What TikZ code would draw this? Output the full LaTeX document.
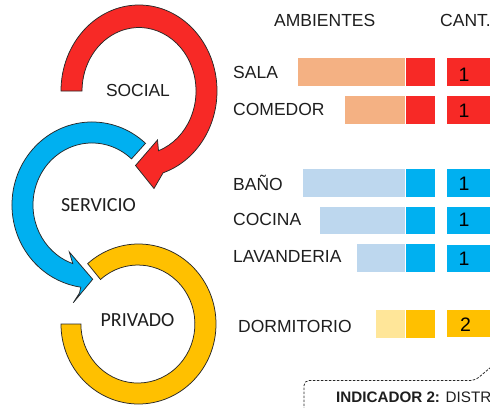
\documentclass[tikz,border=0pt]{standalone}
\usepackage{fontspec}
\setmainfont{Liberation Sans}
\newfontfamily\calib{Carlito}
\definecolor{redc}{RGB}{247,41,38}
\definecolor{redl}{RGB}{244,177,131}
\definecolor{bluec}{RGB}{0,176,240}
\definecolor{bluel}{RGB}{189,215,238}
\definecolor{yelc}{RGB}{255,192,0}
\definecolor{yell}{RGB}{255,230,153}
\definecolor{edge}{RGB}{40,40,40}
\definecolor{txt}{RGB}{30,30,30}
\begin{document}
\begin{tikzpicture}[x=1pt,y=-1pt,
  ringedge/.style={draw=edge,line width=0.75pt,line join=miter,miter limit=6},
  lab/.style={font=\fontsize{17.5}{20}\selectfont,text=txt,anchor=base west,inner sep=0pt},
  num/.style={font=\fontsize{19.5}{22}\selectfont,text=black,anchor=base,inner sep=0pt},
  zone/.style={font=\fontsize{17.4}{20}\selectfont,text=txt,anchor=base,inner sep=0pt},
  zonec/.style={font=\calib\fontsize{20}{24}\selectfont,text=txt,anchor=base,inner sep=0pt},
  barsep/.style={draw=white,line width=0.6pt},
  dashbox/.style={draw=edge,line width=0.8pt,dash pattern=on 2.5pt off 1.5pt,rounded corners=5pt},
]
\useasboundingbox (0,0) rectangle (490,407);
\clip (0,0) rectangle (490,407);

% red arrow (SOCIAL)
\filldraw[fill=redc,ringedge] (61,91)
  arc[start angle=180,end angle=432,x radius=78,y radius=86]
  -- (154,188.5) -- (135.5,165.5) -- (157.5,140) -- (158.5,150.7)
  arc[start angle=430,end angle=180,x radius=57,y radius=63.5] -- cycle;

% blue arrow (SERVICIO)
\filldraw[fill=bluec,ringedge] (145.5,143.3)
  arc[start angle=-48,end angle=-262,x radius=80,y radius=83]
  -- (79.5,293) -- (73.3,302.7) -- (92.7,279.3) -- (69.3,252) -- (72.8,263.6)
  arc[start angle=-251,end angle=-48,x radius=59,y radius=62] -- cycle;

% yellow ring (PRIVADO)
\filldraw[fill=yelc,ringedge] (61,324)
  arc[start angle=180,end angle=-131,x radius=77.5,y radius=80]
  -- (100.5,279.5)
  arc[start angle=-131,end angle=180,x radius=57,y radius=59] -- cycle;

\node[zone] (social) at (138,96.7) {SOCIAL};
\node[zonec] (servicio) at (98.5,211.7) {SERVICIO};
\node[zonec] (privado) at (137.5,326.7) {PRIVADO};

% headers
\node[lab] (amb) at (274,26.7) {AMBIENTES};
\node[lab] (cant) at (440,26.7) {CANT.};

% SALA
\filldraw[fill=redl,barsep] (297,57) rectangle (405,86);
\filldraw[fill=redc,barsep] (405,57) rectangle (435,86);
\filldraw[fill=redc,barsep] (446,57) rectangle (491,86);
\node[lab] (sala) at (233,78.3) {SALA};
\node[num] (nsala) at (464,81) {1};

% COMEDOR
\filldraw[fill=redl,barsep] (344,95) rectangle (405,124);
\filldraw[fill=redc,barsep] (405,95) rectangle (435,124);
\filldraw[fill=redc,barsep] (446,95.5) rectangle (491,124);
\node[lab] (comedor) at (233,115) {COMEDOR};
\node[num] (ncomedor) at (464,117.7) {1};

% BAÑO
\filldraw[fill=bluel,barsep] (302,168) rectangle (405,197);
\filldraw[fill=bluec,barsep] (405,168) rectangle (435,197);
\filldraw[fill=bluec,barsep] (446,168) rectangle (491,197);
\node[lab] (bano) at (233,190.7) {BAÑO};
\node[num] (nbano) at (464,190) {1};

% COCINA
\filldraw[fill=bluel,barsep] (319,206) rectangle (405,234.5);
\filldraw[fill=bluec,barsep] (405,206) rectangle (435,234.5);
\filldraw[fill=bluec,barsep] (446,206) rectangle (491,234.5);
\node[lab] (cocina) at (233,225) {COCINA};
\node[num] (ncocina) at (464,226) {1};

% LAVANDERIA
\filldraw[fill=bluel,barsep] (356,243.5) rectangle (405,272);
\filldraw[fill=bluec,barsep] (405,243.5) rectangle (435,272);
\filldraw[fill=bluec,barsep] (446,244) rectangle (491,272.3);
\node[lab] (lavanderia) at (233,262.3) {LAVANDERIA};
\node[num] (nlavanderia) at (464,265) {1};

% DORMITORIO
\filldraw[fill=yell,barsep] (375,309.5) rectangle (405,338.5);
\filldraw[fill=yelc,barsep] (405,309.5) rectangle (435.5,338.5);
\filldraw[fill=yelc,barsep] (446,309.3) rectangle (491,337.7);
\node[lab] (dormitorio) at (238,332.7) {DORMITORIO};
\node[num] (ndormitorio) at (465.5,331.7) {2};

% indicator box
\coordinate (dbA) at (497,362);
\coordinate (dbB) at (475,380.5);
\coordinate (dbC) at (304,380.5);
\coordinate (dbD) at (304,415);
\draw[dashbox] (dbA) -- (dbB) -- (dbC) -- (dbD);
\node[anchor=base west,inner sep=0pt,text=txt,font=\fontsize{15.2}{18}\selectfont] (ind) at (336,402.5) {\textbf{INDICADOR 2:} DISTR};
\end{tikzpicture}
\end{document}
